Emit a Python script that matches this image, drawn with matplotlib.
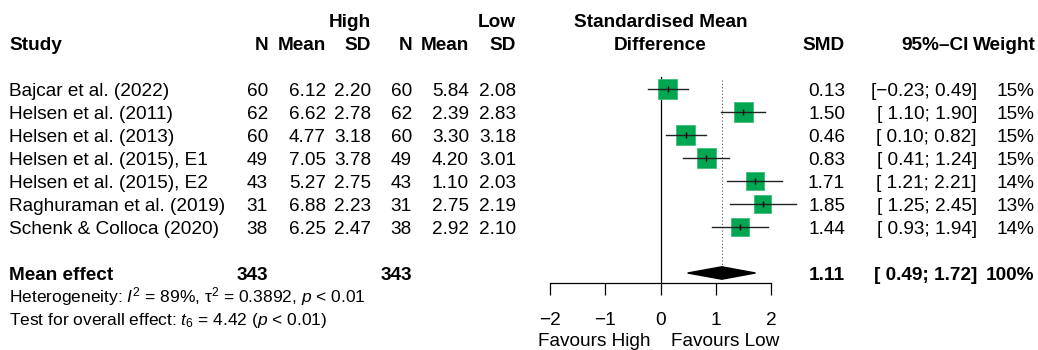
import matplotlib
matplotlib.use("Agg")
import matplotlib.pyplot as plt
from matplotlib.patches import Polygon
import numpy as np

plt.rcParams['font.family'] = ['Liberation Sans', 'DejaVu Sans']
plt.rcParams['mathtext.fontset'] = 'custom'
plt.rcParams['mathtext.rm'] = 'Liberation Sans'
plt.rcParams['mathtext.it'] = 'Liberation Sans:italic'
plt.rcParams['mathtext.bf'] = 'Liberation Sans:bold'

# ---- data ----
studies = ["Bajcar et al. (2022)", "Helsen et al. (2011)", "Helsen et al. (2013)",
           "Helsen et al. (2015), E1", "Helsen et al. (2015), E2",
           "Raghuraman et al. (2019)", "Schenk & Colloca (2020)"]
n_high = [60, 62, 60, 49, 43, 31, 38]
mean_high = [6.12, 6.62, 4.77, 7.05, 5.27, 6.88, 6.25]
sd_high = [2.20, 2.78, 3.18, 3.78, 2.75, 2.23, 2.47]
n_low = [60, 62, 60, 49, 43, 31, 38]
mean_low = [5.84, 2.39, 3.30, 4.20, 1.10, 2.75, 2.92]
sd_low = [2.08, 2.83, 3.18, 3.01, 2.03, 2.19, 2.10]
smd = [0.13, 1.50, 0.46, 0.83, 1.71, 1.85, 1.44]
ci_lo = [-0.23, 1.10, 0.10, 0.41, 1.21, 1.25, 0.93]
ci_hi = [0.49, 1.90, 0.82, 1.24, 2.21, 2.45, 1.94]
weights = [15, 15, 15, 15, 14, 13, 14]
pooled = 1.11
pooled_lo = 0.49
pooled_hi = 1.72
total_high = 343
total_low = 343
xticks = [-2, -1, 0, 1, 2]

# ---- layout (pixels) ----
W, H = 1038, 350
fs = 13.7
fs_het = fs * 11 / 12
green = '#00A651'

def row_y(i):
    return 89 + 23 * i

base = 6.8  # baseline offset from row centre

def fmt(v):
    return f"{v:.2f}".replace('-', '\u2212')

fig = plt.figure(figsize=(W / 100, H / 100), dpi=100)
tx = fig.add_axes([0, 0, 1, 1])
tx.set_xlim(0, W)
tx.set_ylim(H, 0)
tx.axis('off')

# column right edges
c_nh, c_mh, c_sh = 268, 326, 371
c_nl, c_ml, c_sl = 412, 469, 516
c_smd, c_ci, c_w = 845, 977, 1034
c_plot = 660.3

# headers
hy1 = row_y(-3) + base
hy2 = row_y(-2) + base
tx.text(c_sh, hy1, "High", ha='right', fontsize=fs, weight='bold')
tx.text(c_sl, hy1, "Low", ha='right', fontsize=fs, weight='bold')
tx.text(c_plot, hy1, "Standardised Mean", ha='center', fontsize=fs, weight='bold')
tx.text(9, hy2, "Study", ha='left', fontsize=fs, weight='bold')
for x, s in [(c_nh, "N"), (c_mh, "Mean"), (c_sh, "SD"), (c_nl, "N"), (c_ml, "Mean"),
             (c_sl, "SD"), (c_smd, "SMD"), (969, "95%\u2013CI"), (1036, "Weight")]:
    tx.text(x, hy2, s, ha='right', fontsize=fs, weight='bold')
tx.text(c_plot, hy2, "Difference", ha='center', fontsize=fs, weight='bold')

# study rows
for i, name in enumerate(studies):
    y = row_y(i) + base
    tx.text(9, y, name, ha='left', fontsize=fs)
    tx.text(c_nh, y, str(n_high[i]), ha='right', fontsize=fs)
    tx.text(c_mh, y, fmt(mean_high[i]), ha='right', fontsize=fs)
    tx.text(c_sh, y, fmt(sd_high[i]), ha='right', fontsize=fs)
    tx.text(c_nl, y, str(n_low[i]), ha='right', fontsize=fs)
    tx.text(c_ml, y, fmt(mean_low[i]), ha='right', fontsize=fs)
    tx.text(c_sl, y, fmt(sd_low[i]), ha='right', fontsize=fs)
    tx.text(c_smd, y, fmt(smd[i]), ha='right', fontsize=fs)
    ci = "[" + fmt(ci_lo[i]).rjust(5) + "; " + fmt(ci_hi[i]) + "]"
    tx.text(c_ci, y, ci, ha='right', fontsize=fs)
    tx.text(c_w, y, f"{weights[i]}%", ha='right', fontsize=fs)

# pooled row
yp = row_y(8) + base
tx.text(9, yp, "Mean effect", ha='left', fontsize=fs, weight='bold')
tx.text(c_nh, yp, str(total_high), ha='right', fontsize=fs, weight='bold')
tx.text(c_nl, yp, str(total_low), ha='right', fontsize=fs, weight='bold')
tx.text(c_smd, yp, fmt(pooled), ha='right', fontsize=fs, weight='bold')
tx.text(c_ci, yp, "[" + fmt(pooled_lo).rjust(5) + "; " + fmt(pooled_hi) + "]",
        ha='right', fontsize=fs, weight='bold')
tx.text(c_w, yp, "100%", ha='right', fontsize=fs, weight='bold')

tx.text(9, row_y(9) + base - 0.5,
        r"Heterogeneity: $I^2$ = 89%, τ$^2$ = 0.3892, $p$ < 0.01",
        ha='left', fontsize=fs_het)
tx.text(9, row_y(10) + base - 0.5,
        r"Test for overall effect: $t_6$ = 4.42 ($p$ < 0.01)",
        ha='left', fontsize=fs_het)

# ---- forest panel ----
x0_px, x1_px = 550.3, 770.9
ax = fig.add_axes([x0_px / W, 0, (x1_px - x0_px) / W, 1])
ax.set_xlim(-2, 2)
ax.set_ylim(H, 0)
ax.patch.set_alpha(0)
for s in ['left', 'right', 'top']:
    ax.spines[s].set_visible(False)
axis_y = 283
ax.spines['bottom'].set_position(('data', axis_y))
ax.spines['bottom'].set_linewidth(0.9)
ax.set_yticks([])
ax.set_xticks(xticks)
ax.set_xticklabels([str(t).replace('-', '\u2212') for t in xticks])
ax.tick_params(axis='x', direction='out', length=8.6, width=0.9, pad=12, labelsize=fs)

# reference lines
ax.plot([0, 0], [77, axis_y], color='black', lw=0.9)
ax.plot([pooled, pooled], [80, row_y(8) - 6.5], color='#555555', lw=0.8, ls=(0, (1, 2)))

# study CIs and squares
ys = [row_y(i) for i in range(len(studies))]
sides = 13.7 * np.sqrt(np.array(weights) / 15.0)  # points
ax.scatter(smd, ys, marker='s', s=sides ** 2, color=green, edgecolor='#3fbf7a',
           linewidths=0.6, zorder=2, clip_on=False)
for i in range(len(studies)):
    ax.plot([ci_lo[i], ci_hi[i]], [ys[i], ys[i]], color='#222222', lw=1.0,
            zorder=3, clip_on=False)
ax.scatter(smd, ys, marker='|', s=16, color='black', linewidths=1.0, zorder=4, clip_on=False)

# pooled diamond
yd = row_y(8)
diamond = Polygon([[pooled_lo, yd], [pooled, yd - 6.2], [pooled_hi, yd], [pooled, yd + 6.2]],
                  closed=True, color='black', zorder=3)
ax.add_patch(diamond)

# favours labels
ax.text(-0.18, 346.5, "Favours High", ha='right', fontsize=fs)
ax.text(0.18, 346.5, "Favours Low", ha='left', fontsize=fs)

fig.savefig('out.png', dpi=100)
